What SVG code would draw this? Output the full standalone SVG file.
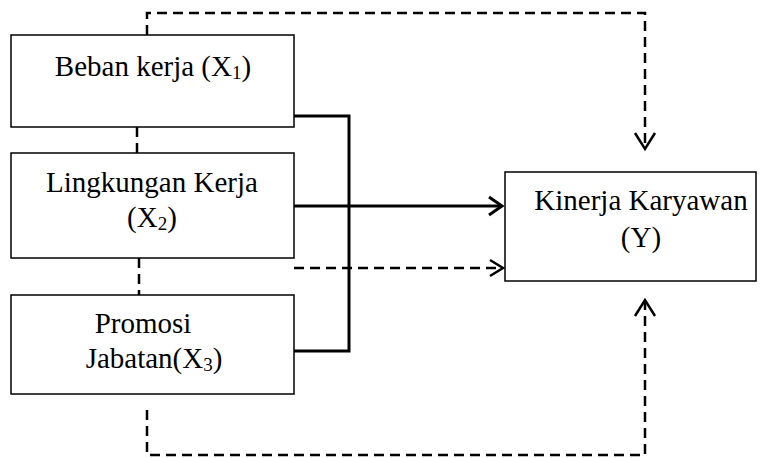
<svg xmlns="http://www.w3.org/2000/svg" width="764" height="458" viewBox="0 0 764 458">
<style>
.box{fill:#fff;stroke:#000;stroke-width:1.5}
.t{font-family:"Liberation Serif","Times New Roman",serif;font-size:29px;fill:#000;text-anchor:middle}
.sub{font-size:19px}
.solid{fill:none;stroke:#000;stroke-width:3}
.dash{fill:none;stroke:#000;stroke-width:2.5;stroke-dasharray:10 6}
.head{fill:none;stroke:#000;stroke-width:2.5}
.headb{fill:none;stroke:#000;stroke-width:3}
</style>
<rect width="764" height="458" fill="#fff"/>
<g id="connectors">
<polyline class="dash" points="147,35 147,13 645,13 645,147"/>
<polyline class="head" points="635,133 645,149 655,133"/>
<polyline class="dash" points="147,410 147,455 645,455 645,301"/>
<polyline class="head" points="635,316 645,300 655,316"/>
<line class="dash" x1="137" y1="127" x2="137" y2="153"/>
<line class="dash" x1="139" y1="258" x2="139" y2="295"/>
<polyline class="solid" points="294,116 349,116 349,351 294,351"/>
<line class="solid" x1="294" y1="206" x2="501" y2="206"/>
<polyline class="headb" points="489,197 502,206 489,215"/>
<line class="dash" x1="294" y1="268" x2="500" y2="268"/>
<polyline class="head" points="490,260 503,268 490,276"/>
</g>
<g id="x1">
<rect class="box" x="11" y="35" width="283" height="92"/>
<text class="t" x="153" y="76">Beban kerja (X<tspan class="sub" dy="3">1</tspan><tspan dy="-3">)</tspan></text>
</g>
<g id="x2">
<rect class="box" x="11" y="153" width="283" height="105"/>
<text class="t" x="152" y="192">Lingkungan Kerja</text>
<text class="t" x="152" y="227">(X<tspan class="sub" dy="3">2</tspan><tspan dy="-3">)</tspan></text>
</g>
<g id="x3">
<rect class="box" x="11" y="295" width="283" height="99"/>
<text class="t" x="143" y="333">Promosi</text>
<text class="t" x="154" y="368">Jabatan(X<tspan class="sub" dy="3">3</tspan><tspan dy="-3">)</tspan></text>
</g>
<g id="y">
<rect class="box" x="505" y="172" width="251" height="109"/>
<text class="t" x="641" y="210">Kinerja Karyawan</text>
<text class="t" x="641" y="247">(Y)</text>
</g>
</svg>
